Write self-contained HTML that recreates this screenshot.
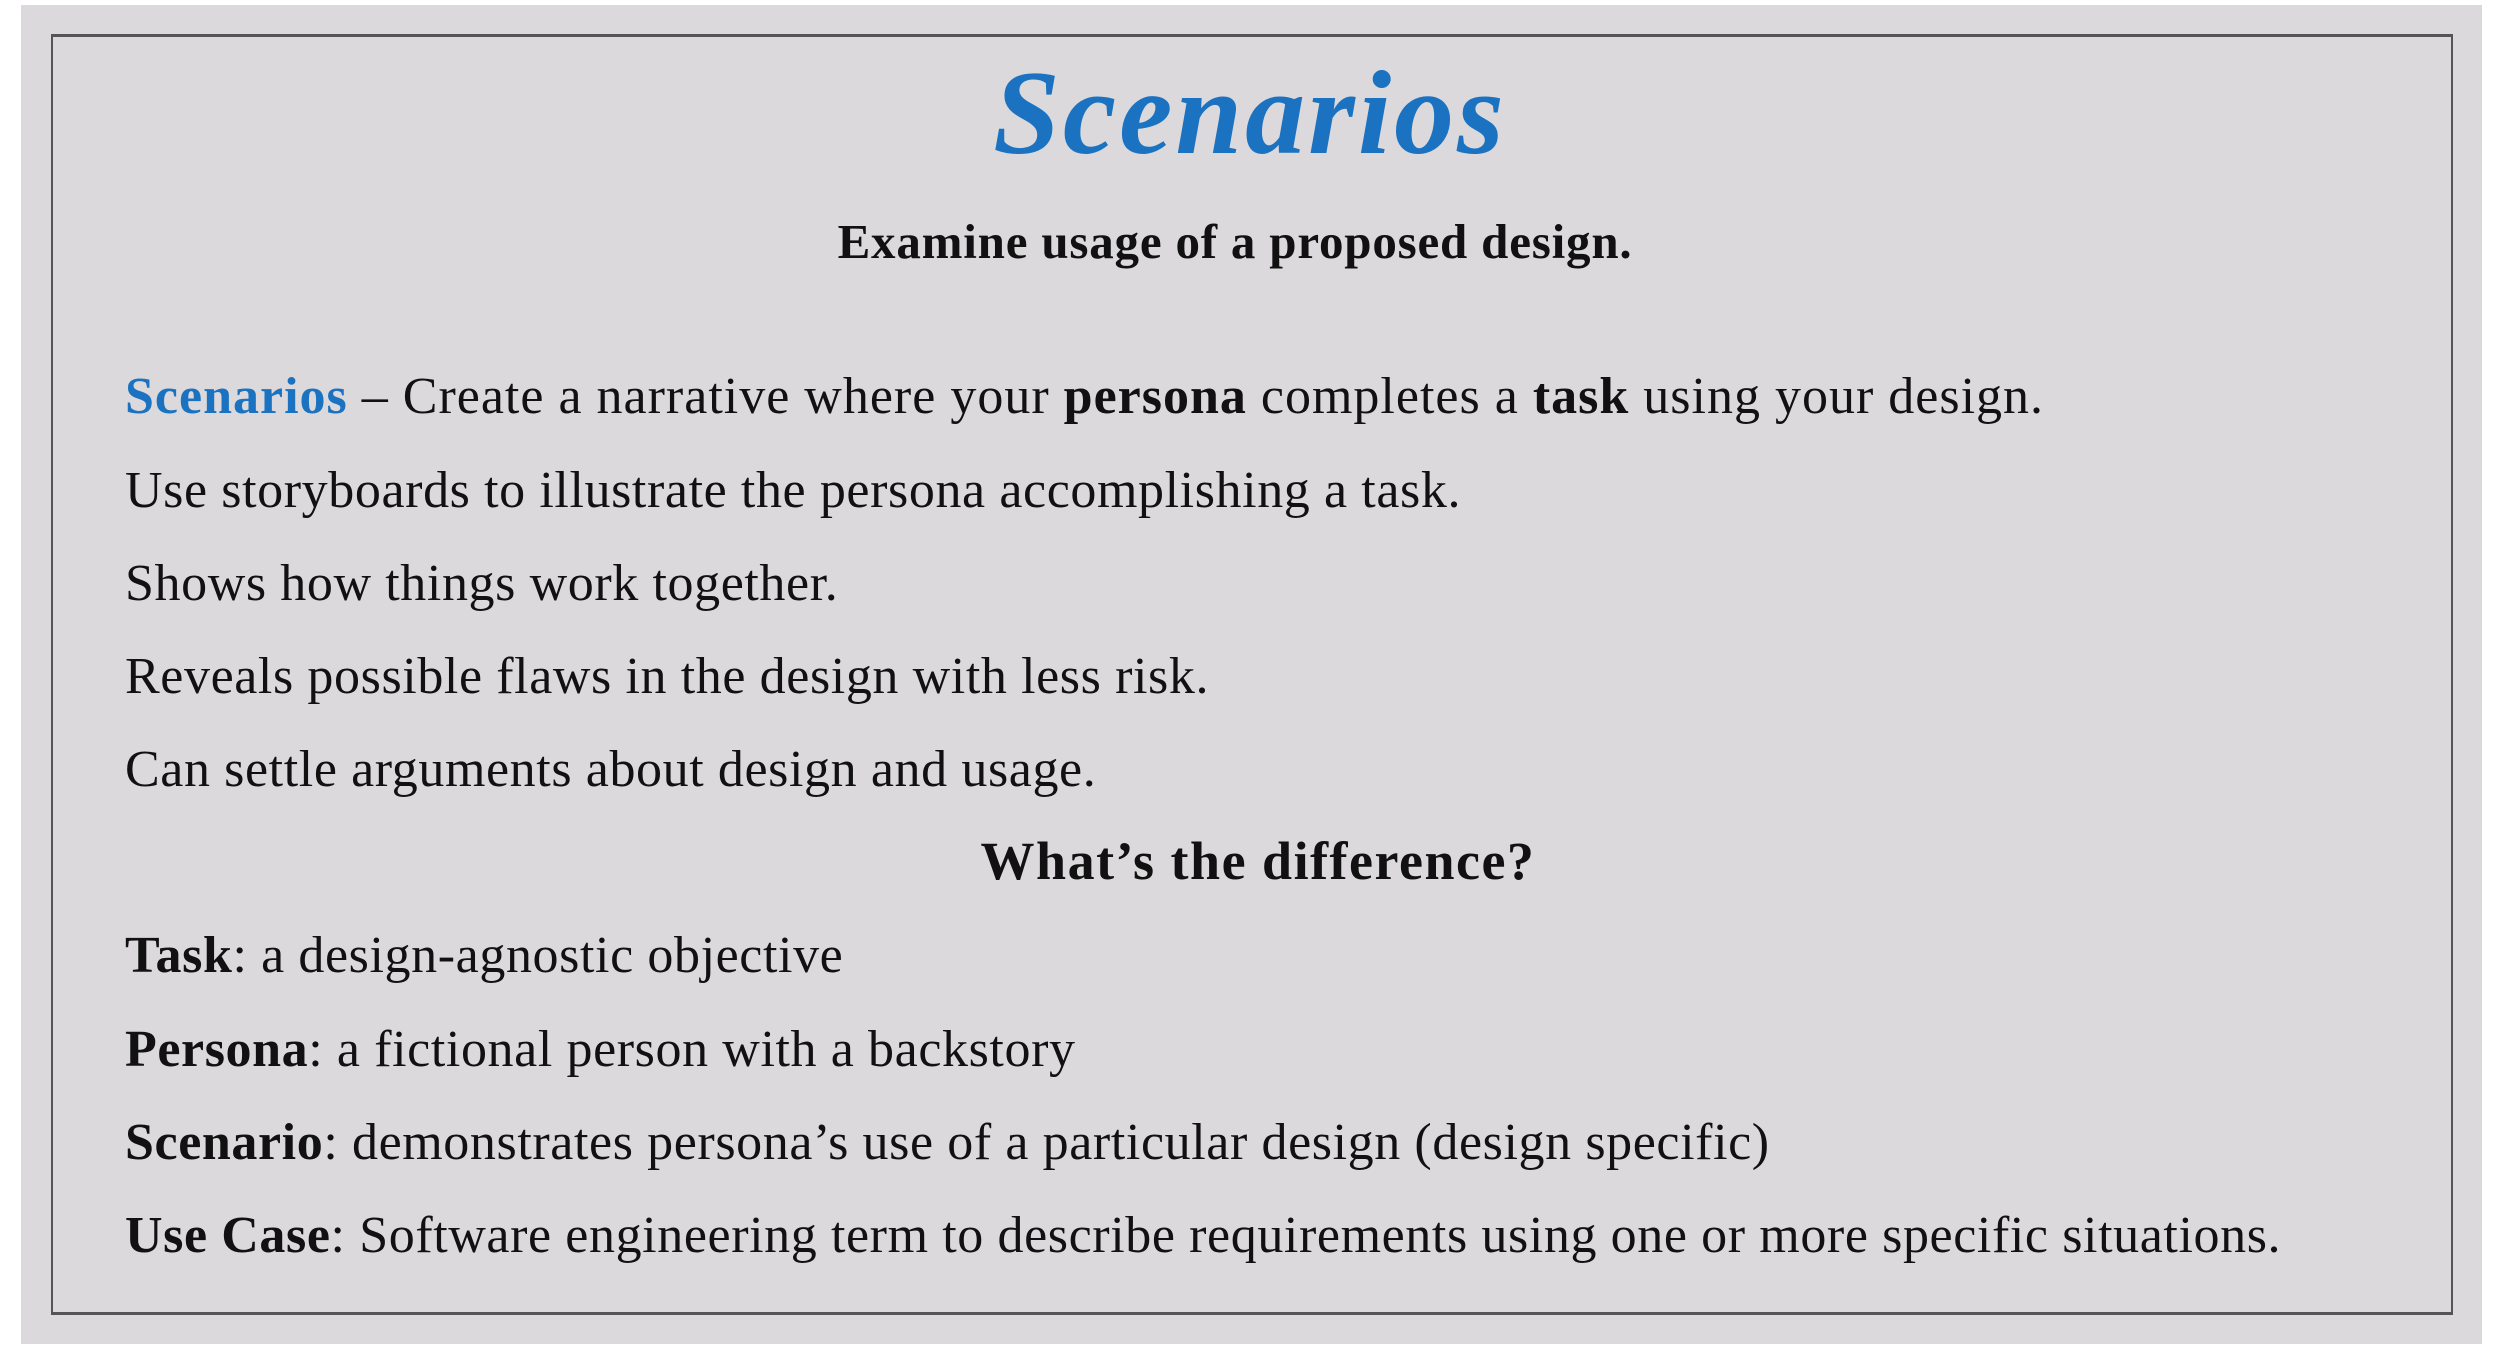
<!DOCTYPE html>
<html><head><meta charset="utf-8"><style>
html,body{margin:0;padding:0;width:2506px;height:1366px;background:#fff;overflow:hidden}
#bg{position:absolute;left:21px;top:5px;width:2461px;height:1339px;background:#dbd9dc}
#box{position:absolute;left:51px;top:34px;width:2402px;height:1281px;border:2px solid #555;box-sizing:border-box;border-top-width:3px;border-bottom-width:3px}
.t{position:absolute;font-family:"Liberation Serif",serif;color:#111;white-space:nowrap;line-height:1}
.l{left:125px;font-size:52px;letter-spacing:0.6px}
b{font-weight:bold}
.blue{color:#1a72c1}
</style></head><body>
<div id="bg"></div>
<div id="box"></div>
<div class="t blue" style="left:0;width:2500px;text-align:center;top:53px;font-size:120px;letter-spacing:3px;font-weight:bold;font-style:italic">Scenarios</div>
<div class="t" style="left:0;width:2470px;text-align:center;top:217px;font-size:49px;letter-spacing:0.8px;font-weight:bold">Examine usage of a proposed design.</div>
<div class="t l" style="top:371px;letter-spacing:1px"><b class="blue">Scenarios</b> – Create a narrative where your <b>persona</b> completes a <b>task</b> using your design.</div>
<div class="t l" style="top:465px">Use storyboards to illustrate the persona accomplishing a task.</div>
<div class="t l" style="top:558px">Shows how things work together.</div>
<div class="t l" style="top:651px">Reveals possible flaws in the design with less risk.</div>
<div class="t l" style="top:744px">Can settle arguments about design and usage.</div>
<div class="t" style="left:0;width:2516px;text-align:center;top:834px;font-size:54px;letter-spacing:1.5px;font-weight:bold">What’s the difference?</div>
<div class="t l" style="top:930px"><b>Task</b>: a design-agnostic objective</div>
<div class="t l" style="top:1024px"><b>Persona</b>: a fictional person with a backstory</div>
<div class="t l" style="top:1117px"><b>Scenario</b>: demonstrates persona’s use of a particular design (design specific)</div>
<div class="t l" style="top:1210px"><b>Use Case</b>: Software engineering term to describe requirements using one or more specific situations.</div>
</body></html>
